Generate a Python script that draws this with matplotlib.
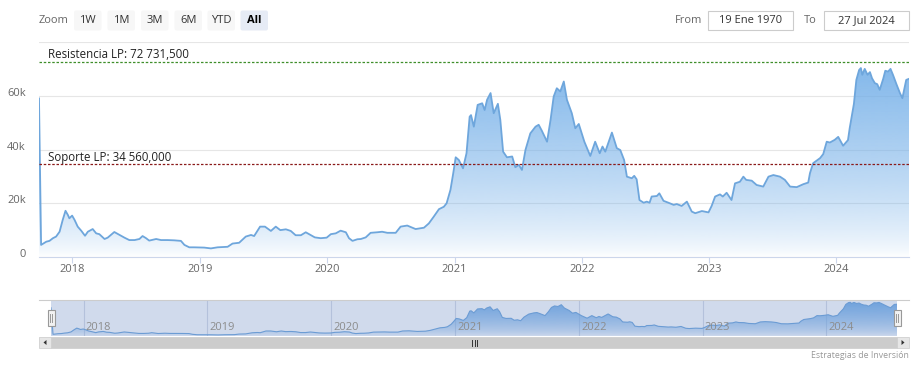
import numpy as np
import pandas as pd
import matplotlib
matplotlib.use("Agg")
import matplotlib.pyplot as plt
import matplotlib.dates as mdates
from matplotlib.patches import Rectangle, FancyBboxPatch, PathPatch, Polygon
from matplotlib.path import Path
from matplotlib.colors import to_rgb
from matplotlib.transforms import ScaledTranslation

plt.rcParams['font.family'] = ['Open Sans', 'DejaVu Sans']

# ---------------- data ----------------
dates = [
    "2017-09-27", "2017-10-03", "2017-10-18", "2017-10-27", "2017-11-06", "2017-11-15",
    "2017-11-25", "2017-12-04", "2017-12-12", "2017-12-19", "2017-12-23", "2017-12-31",
    "2018-01-07", "2018-01-16", "2018-01-26", "2018-02-06", "2018-02-14", "2018-02-28",
    "2018-03-10", "2018-03-19", "2018-04-03", "2018-04-12", "2018-05-01", "2018-05-16",
    "2018-05-30", "2018-06-13", "2018-06-28", "2018-07-12", "2018-07-21", "2018-07-31",
    "2018-08-09", "2018-08-29", "2018-09-12", "2018-10-01", "2018-10-20", "2018-11-08",
    "2018-11-18", "2018-12-02", "2018-12-16", "2019-01-14", "2019-02-02", "2019-02-21",
    "2019-03-22", "2019-04-05", "2019-04-24", "2019-05-13", "2019-05-28", "2019-06-06",
    "2019-06-23", "2019-07-07", "2019-07-24", "2019-08-07", "2019-08-20", "2019-09-05",
    "2019-09-19", "2019-10-03", "2019-10-18", "2019-11-01", "2019-11-15", "2019-11-27",
    "2019-12-14", "2019-12-31", "2020-01-12", "2020-01-26", "2020-02-09", "2020-02-24",
    "2020-03-04", "2020-03-14", "2020-03-28", "2020-04-07", "2020-04-21", "2020-05-05",
    "2020-05-24", "2020-06-07", "2020-06-22", "2020-07-16", "2020-07-30", "2020-08-18",
    "2020-09-11", "2020-10-05", "2020-10-19", "2020-11-02", "2020-11-17", "2020-12-01",
    "2020-12-09", "2020-12-20", "2020-12-28", "2021-01-04", "2021-01-13", "2021-01-25",
    "2021-02-04", "2021-02-13", "2021-02-17", "2021-02-25", "2021-03-08", "2021-03-21",
    "2021-03-28", "2021-04-04", "2021-04-14", "2021-04-23", "2021-05-05", "2021-05-12",
    "2021-05-20", "2021-05-31", "2021-06-15", "2021-06-24", "2021-07-04", "2021-07-13",
    "2021-07-23", "2021-08-06", "2021-08-21", "2021-08-30", "2021-09-08", "2021-09-23",
    "2021-10-03", "2021-10-12", "2021-10-21", "2021-10-31", "2021-11-10", "2021-11-19",
    "2021-12-03", "2021-12-13", "2021-12-23", "2022-01-08", "2022-01-25", "2022-02-08",
    "2022-02-21", "2022-03-01", "2022-03-09", "2022-03-28", "2022-04-11", "2022-04-21",
    "2022-05-02", "2022-05-10", "2022-05-24", "2022-05-31", "2022-06-07", "2022-06-15",
    "2022-06-27", "2022-07-06", "2022-07-14", "2022-07-20", "2022-08-04", "2022-08-11",
    "2022-08-23", "2022-09-06", "2022-09-21", "2022-09-30", "2022-10-14", "2022-10-29",
    "2022-11-12", "2022-11-22", "2022-12-11", "2022-12-30", "2023-01-08", "2023-01-18",
    "2023-02-01", "2023-02-09", "2023-02-20", "2023-03-06", "2023-03-16", "2023-03-30",
    "2023-04-09", "2023-04-17", "2023-05-03", "2023-05-17", "2023-06-05", "2023-06-20",
    "2023-07-04", "2023-07-23", "2023-08-06", "2023-08-21", "2023-09-09", "2023-09-28",
    "2023-10-12", "2023-10-17", "2023-10-26", "2023-11-15", "2023-11-24", "2023-12-04",
    "2023-12-13", "2023-12-27", "2024-01-06", "2024-01-20", "2024-02-03", "2024-02-08",
    "2024-02-14", "2024-02-20", "2024-02-27", "2024-03-06", "2024-03-11", "2024-03-15",
    "2024-03-22", "2024-03-30", "2024-04-06", "2024-04-12", "2024-04-20", "2024-04-27",
    "2024-05-04", "2024-05-14", "2024-05-20", "2024-05-28", "2024-06-04", "2024-06-11",
    "2024-06-21", "2024-07-01", "2024-07-08", "2024-07-14", "2024-07-19", "2024-07-27",
]
prices = [
    59000, 4500, 5700, 6000, 7000, 7600,
    9400, 13800, 17200, 15600, 14400, 15400,
    13800, 11300, 9800, 7900, 9400, 10400,
    8800, 8500, 6700, 7200, 9300, 8200,
    7200, 6300, 6300, 6700, 7800, 7000,
    6100, 6700, 6300, 6300, 6200, 6000,
    4500, 3600, 3600, 3500, 3200, 3600,
    3800, 5000, 5300, 7600, 8200, 7800,
    11300, 11300, 9700, 11300, 10000, 10300,
    9700, 8100, 8100, 9200, 8200, 7300,
    7000, 7200, 8500, 8800, 9800, 9200,
    7000, 6000, 6600, 6700, 7300, 9000,
    9200, 9400, 9000, 9000, 11300, 11700,
    10400, 10900, 12500, 15000, 17800, 18700,
    20000, 25000, 31200, 37100, 36100, 33000,
    38600, 52200, 52800, 48500, 56600, 57200,
    54700, 58500, 61000, 53500, 57000, 51000,
    39200, 37100, 37400, 33400, 34300, 32400,
    39800, 46000, 48500, 49200, 47000, 42900,
    51000, 59700, 62800, 61600, 65300, 58500,
    53500, 47900, 49500, 42900, 37600, 42900,
    38600, 41100, 39200, 46300, 40500, 39800,
    36100, 29900, 29300, 30200, 28900, 21200,
    20200, 20600, 20200, 22500, 22700, 23700,
    20900, 20200, 19400, 19700, 19000, 20600,
    16900, 16300, 17100, 16600, 19000, 22500,
    23300, 22500, 23900, 21200, 27400, 28000,
    29900, 28700, 28400, 26800, 26200, 29900,
    30500, 29900, 28700, 26200, 26000, 27100,
    27700, 31200, 34900, 36800, 38300, 42900,
    42600, 43600, 44700, 41400, 43500, 48000,
    52500, 57000, 65900, 69600, 70300, 67800,
    70000, 67800, 68800, 66500, 64700, 64300,
    62200, 66300, 69300, 69000, 70000, 67800,
    64300, 61000, 59100, 62800, 65900, 66300,
]
year_labels = ["2018", "2019", "2020", "2021", "2022", "2023", "2024"]
y_ticks = [0, 20000, 40000, 60000, 80000]
y_tick_labels = ["0", "20k", "40k", "60k", ""]
resistance = 72731.5
support = 34560.0
resistance_label = "Resistencia LP: 72 731,500"
support_label = "Soporte LP: 34 560,000"
zoom_buttons = ["1W", "1M", "3M", "6M", "YTD", "All"]
selected_button = "All"
from_text = "19 Ene 1970"
to_text = "27 Jul 2024"
credit_text = "Estrategias de Inversión"

# ---------------- setup ----------------
W, H = 919, 367
fig = plt.figure(figsize=(W / 100, H / 100), dpi=100)
fig.patch.set_facecolor("white")


def rect(x0, y0, x1, y1):
    return [x0 / W, 1 - y1 / H, (x1 - x0) / W, (y1 - y0) / H]


dts = pd.to_datetime(dates)
xs = mdates.date2num(dts)
vals = np.array(prices, dtype=float)
tick_dates = mdates.date2num(pd.to_datetime([f"{y}-01-01" for y in year_labels]))

LINE = "#6ea6dc"
FILL = "#72aee8"


def gradient_area(ax, x, y, ymin, ymax, amax=0.95, power=0.7):
    n = 256
    t = np.linspace(0, 1, n)
    rgba = np.zeros((n, 1, 4))
    rgba[..., :3] = to_rgb(FILL)
    rgba[:, 0, 3] = amax * t ** power
    im = ax.imshow(rgba, extent=[x[0], x[-1], ymin, ymax], origin="lower",
                   aspect="auto", interpolation="bilinear", zorder=1)
    verts = [(x[0], ymin)] + list(zip(x, y)) + [(x[-1], ymin), (x[0], ymin)]
    path = Path(verts, closed=True)
    patch = PathPatch(path, transform=ax.transData, facecolor="none", edgecolor="none")
    ax.add_patch(patch)
    im.set_clip_path(patch)


# ---------------- main chart ----------------
ax = fig.add_axes(rect(39, 42, 909, 257))
ax.set_facecolor("none")
gradient_area(ax, xs, vals, 0, 80000)
ax.plot(xs, vals, color=LINE, lw=1.3, zorder=3, solid_joinstyle="round")
ax.set_xlim(xs[0], xs[-1])
ax.set_ylim(0, 80000)

for s in ["top", "right", "left"]:
    ax.spines[s].set_visible(False)
ax.spines["bottom"].set_color("#ccd6eb")
ax.spines["bottom"].set_linewidth(0.8)

ax.set_yticks(y_ticks, y_tick_labels)
ax.tick_params(axis="y", length=0, pad=9.5, labelsize=8, labelcolor="#666666")
for lab in ax.get_yticklabels():
    lab.set_transform(lab.get_transform() + ScaledTranslation(0, 0.04, fig.dpi_scale_trans))
ax.yaxis.grid(True, color="#e6e6e6", lw=0.8)
ax.set_axisbelow(True)

ax.set_xticks(tick_dates, year_labels)
ax.tick_params(axis="x", length=4.5, width=0.8, color="#ccd6eb", labelsize=8,
               labelcolor="#666666", pad=0.8)

ax.axhline(resistance, color="#3f8f2a", lw=0.9, ls=(0, (2, 1.4)), zorder=4)
ax.axhline(support, color="#8b1a1a", lw=0.9, ls=(0, (2, 1.4)), zorder=4)
ax.annotate(resistance_label, xy=(0, resistance), xycoords=("axes fraction", "data"),
            xytext=(9, 7), textcoords="offset pixels", ha="left", va="center",
            fontsize=8.3, color="#222222", zorder=5)
ax.annotate(support_label, xy=(0, support), xycoords=("axes fraction", "data"),
            xytext=(9, 7), textcoords="offset pixels", ha="left", va="center",
            fontsize=8.3, color="#222222", zorder=5)

# ---------------- navigator ----------------
nav = fig.add_axes(rect(51, 300, 897, 336))
nav.set_facecolor("white")
nav_min, nav_max = 1000, 75000
gradient_area(nav, xs, vals, nav_min, nav_max, amax=1.0, power=0.6)
nav.plot(xs, vals, color=LINE, lw=0.8, zorder=3)
nav.set_xlim(xs[0], xs[-1])
nav.set_ylim(nav_min, nav_max)
for s in nav.spines.values():
    s.set_visible(False)
nav.set_xticks(tick_dates)
nav.set_yticks([])
nav.tick_params(axis="x", length=0, labelbottom=False)
nav.xaxis.grid(True, color="#d6dbe6", lw=0.8)
nav.set_axisbelow(True)
nav.axvspan(xs[0], xs[-1], facecolor=(102 / 255, 133 / 255, 194 / 255, 0.3),
            edgecolor="none", zorder=4)
for td, lab in zip(tick_dates, year_labels):
    nav.annotate(lab, xy=(td, 0), xycoords=("data", "axes fraction"),
                 xytext=(2, 8), textcoords="offset pixels", ha="left", va="center",
                 fontsize=8, color="#8c8c8c", zorder=5)

# ---------------- overlay (UI chrome) ----------------
ui = fig.add_axes([0, 0, 1, 1], zorder=10)
ui.set_xlim(0, W)
ui.set_ylim(H, 0)
ui.axis("off")
ui.patch.set_alpha(0)

ui.text(39, 20.5, "Zoom", ha="left", va="center", fontsize=8, color="#666666")
bx = [74, 107.5, 141, 174.5, 207.5, 240.5]
bw = [27.5, 27.5, 27.5, 27.5, 27.5, 27.5]
for x0, w, lab in zip(bx, bw, zoom_buttons):
    sel = lab == selected_button
    ui.add_patch(FancyBboxPatch((x0, 10.5), w, 20, boxstyle="round,pad=0,rounding_size=2",
                                facecolor="#e6ebf5" if sel else "#f7f7f7", edgecolor="none"))
    ui.text(x0 + w / 2, 20.5, lab, ha="center", va="center", fontsize=8,
            color="#000000" if sel else "#333333", fontweight="bold" if sel else "normal")

ui.text(675, 20.5, "From", ha="left", va="center", fontsize=8, color="#666666")
ui.add_patch(Rectangle((708, 11), 85, 19, facecolor="white", edgecolor="#cccccc", lw=0.8))
ui.text(750.5, 20.5, from_text, ha="center", va="center", fontsize=8, color="#333333")
ui.text(804, 20.5, "To", ha="left", va="center", fontsize=8, color="#666666")
ui.add_patch(Rectangle((824, 11), 85, 19, facecolor="white", edgecolor="#cccccc", lw=0.8))
ui.text(866.5, 20.5, to_text, ha="center", va="center", fontsize=8, color="#333333")

# navigator outline
ui.plot([39, 909], [300, 300], color="#cccccc", lw=0.8)
# handles
for hx in (51, 897):
    ui.add_patch(Rectangle((hx - 3.5, 310), 7, 16, facecolor="#f2f2f2", edgecolor="#999999", lw=0.8))
    ui.plot([hx - 1, hx - 1], [314, 322], color="#999999", lw=0.7)
    ui.plot([hx + 1, hx + 1], [314, 322], color="#999999", lw=0.7)

# scrollbar
ui.add_patch(Rectangle((39, 337), 870, 11, facecolor="#f2f2f2", edgecolor="none"))
ui.add_patch(Rectangle((51, 337), 846, 11, facecolor="#cccccc", edgecolor="#cccccc", lw=0.5))
ui.add_patch(Rectangle((39, 337), 12, 11, facecolor="#e6e6e6", edgecolor="#cccccc", lw=0.5))
ui.add_patch(Rectangle((897, 337), 12, 11, facecolor="#e6e6e6", edgecolor="#cccccc", lw=0.5))
ui.add_patch(Polygon([(46.5, 340), (46.5, 345), (43.5, 342.5)], closed=True, facecolor="#333333", edgecolor="none"))
ui.add_patch(Polygon([(901.5, 340), (901.5, 345), (904.5, 342.5)], closed=True, facecolor="#333333", edgecolor="none"))
for gx in (472, 474.5, 477):
    ui.plot([gx, gx], [339.5, 345.5], color="#333333", lw=0.7)

ui.text(909, 356, credit_text, ha="right", va="center", fontsize=6.3, color="#999999")

fig.savefig("out.png", dpi=100)
